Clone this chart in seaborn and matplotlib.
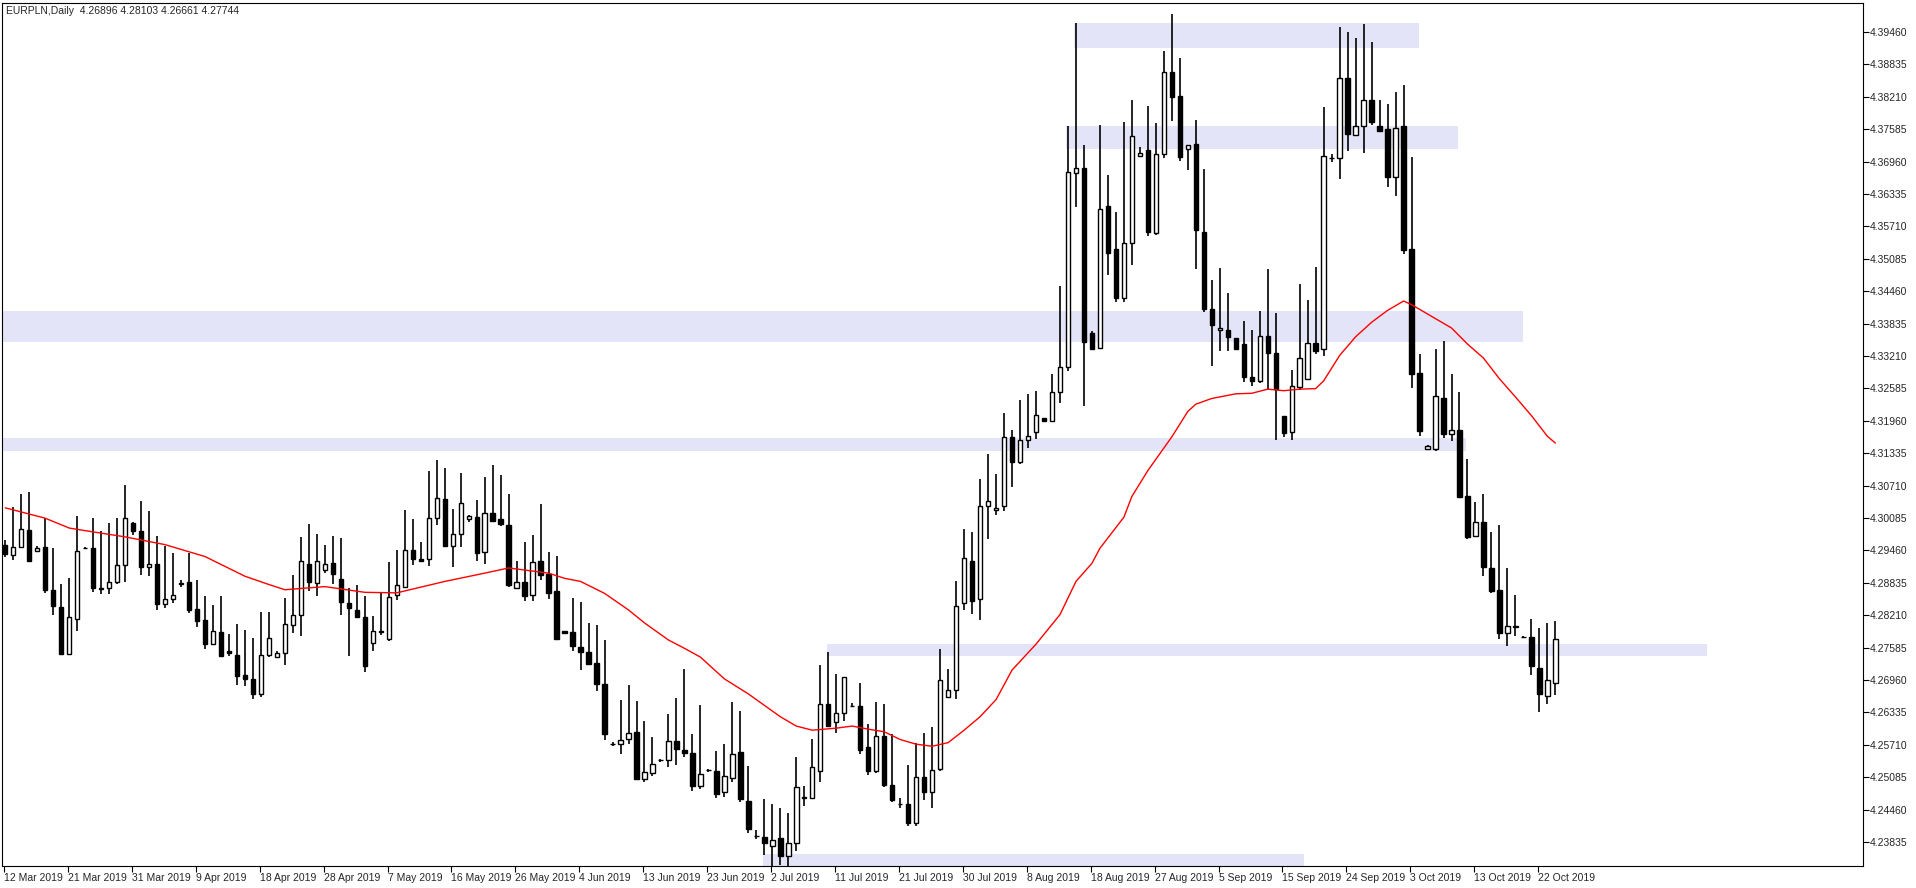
import matplotlib
matplotlib.use('Agg')
import matplotlib.pyplot as plt
import seaborn as sns
import pandas as pd
import numpy as np

# daily EURPLN candles, bar 0 = 12 Mar 2019
opens = [4.2957,4.2937,4.2952,4.2986,4.2945,4.2953,4.2870,4.2837,4.2746,4.2813,
         4.2951,4.2951,4.2874,4.2873,4.2884,4.2918,4.2999,4.2984,4.2914,4.2920,
         4.2842,4.2852,4.2882,4.2884,4.2833,4.2812,4.2765,4.2789,4.2752,4.2745,
         4.2706,4.2698,4.2668,4.2744,4.2741,4.2748,4.2802,4.2821,4.2920,4.2883,
         4.2908,4.2922,4.2891,4.2845,4.2830,4.2818,4.2767,4.2791,4.2775,4.2860,
         4.2876,4.2947,4.2930,4.2929,4.3008,4.3045,4.2955,4.2978,4.3007,4.3010,
         4.2942,4.3018,4.3006,4.2995,4.2873,4.2885,4.2859,4.2926,4.2900,4.2868,
         4.2790,4.2789,4.2760,4.2750,4.2729,4.2689,4.2572,4.2572,4.2582,4.2595,
         4.2505,4.2516,4.2541,4.2542,4.2578,4.2560,4.2555,4.2492,
         4.2522,4.2521,4.2480,4.2507,4.2556,4.2463,4.2394,4.2392,4.2376,4.2391,
         4.2357,4.2381,4.2469,4.2469,4.2520,4.2650,4.2614,4.2633,4.2646,4.2646,
         4.2566,4.2520,4.2588,4.2494,4.2457,4.2456,4.2420,4.2508,4.2479,4.2525,
         4.2664,4.2677,4.2844,4.2925,4.2852,4.3032,4.3024,
         4.3031,4.3164,4.3116,4.3159,4.3174,4.3201,4.3195,4.3251,4.3299,4.3674,
         4.3683,4.3365,4.3337,4.3611,4.3527,4.3433,4.3539,4.3707,4.3719,4.3559,
         4.3711,4.3868,4.3822,4.3721,4.3730,4.3560,4.3411,4.3371,4.3372,4.3355,
         4.3344,4.3280,4.3273,4.3359,4.3326,4.3205,4.3174,4.3262,
         4.3277,4.3346,4.3334,4.3703,4.3702,4.3857,4.3747,4.3765,4.3814,4.3764,
         4.3758,4.3666,4.3764,4.3527,4.3288,4.3141,4.3142,4.3240,4.3170,4.3178,
         4.3050,4.2974,4.3001,4.2912,4.2869,4.2787,4.2799,4.2778,4.2778,4.2719,
         4.2665,4.26896]
highs = [4.2966,4.3030,4.3055,4.3058,4.2955,4.3008,4.2951,4.2882,4.2893,4.3013,
         4.2952,4.3009,4.2983,4.2999,4.3009,4.3073,4.3001,4.3042,4.3021,4.2974,
         4.2955,4.2941,4.2889,4.2940,4.2889,4.2857,4.2841,4.2858,4.2785,4.2803,
         4.2793,4.2776,4.2828,4.2828,4.2751,4.2855,4.2899,4.2972,4.2997,4.2978,
         4.2957,4.2974,4.2970,4.2874,4.2880,4.2857,4.2820,4.2863,4.2924,4.2947,
         4.3024,4.3006,4.2963,4.3100,4.3120,4.3105,4.3025,4.3095,4.3015,4.3043,
         4.3088,4.3110,4.3092,4.3055,4.2926,4.2963,4.2976,4.3036,4.2942,4.2935,
         4.2790,4.2854,4.2847,4.2806,4.2802,4.2773,4.2576,4.2658,4.2687,4.2656,
         4.2616,4.2586,4.2543,4.2631,4.2661,4.2717,4.2592,4.2648,
         4.2525,4.2559,4.2572,4.2654,4.2637,4.2529,4.2407,4.2466,4.2457,4.2448,
         4.2440,4.2547,4.2491,4.2582,4.2724,4.2750,4.2707,4.2702,4.2651,4.2690,
         4.2610,4.2654,4.2649,4.2592,4.2469,4.2532,4.2574,4.2594,4.2606,4.2756,
         4.2718,4.2887,4.2987,4.2981,4.3083,4.3132,4.3093,
         4.3211,4.3179,4.3236,4.3248,4.3254,4.3202,4.3287,4.3456,4.3765,4.3963,
         4.3728,4.3369,4.3767,4.3670,4.3599,4.3773,4.3815,4.3724,4.3804,4.3771,
         4.3910,4.3981,4.3895,4.3728,4.3777,4.3681,4.3468,4.3490,4.3442,4.3356,
         4.3389,4.3371,4.3407,4.3488,4.3404,4.3206,4.3293,4.3460,
         4.3429,4.3493,4.3801,4.3710,4.3956,4.3946,4.3934,4.3962,4.3926,4.3814,
         4.3807,4.3830,4.3843,4.3705,4.3324,4.3149,4.3334,4.3349,4.3286,4.3252,
         4.3123,4.3039,4.3054,4.2982,4.2994,4.2912,4.2859,4.2780,4.2814,4.2796,
         4.2805,4.28103]
lows = [4.2934,4.2927,4.2950,4.2925,4.2945,4.2864,4.2822,4.2745,4.2745,4.2790,
        4.2950,4.2865,4.2861,4.2861,4.2882,4.2884,4.2976,4.2899,4.2897,4.2830,
        4.2834,4.2844,4.2875,4.2826,4.2799,4.2756,4.2763,4.2743,4.2743,4.2687,
        4.2684,4.2659,4.2664,4.2740,4.2741,4.2724,4.2786,4.2780,4.2867,4.2857,
        4.2902,4.2881,4.2822,4.2743,4.2815,4.2711,4.2751,4.2782,4.2772,4.2851,
        4.2876,4.2918,4.2923,4.2916,4.2995,4.2953,4.2913,4.2953,4.3000,4.2926,
        4.2919,4.3000,4.2993,4.2876,4.2873,4.2849,4.2849,4.2889,4.2852,4.2774,
        4.2785,4.2751,4.2716,4.2726,4.2674,4.2581,4.2568,4.2553,4.2572,4.2505,
        4.2499,4.2510,4.2538,4.2528,4.2531,4.2548,4.2481,4.2485,
        4.2519,4.2469,4.2470,4.2500,4.2461,4.2401,4.2389,4.2358,4.2335,4.2338,
        4.2336,4.2366,4.2452,4.2466,4.2500,4.2608,4.2594,4.2617,4.2643,4.2553,
        4.2513,4.2517,4.2489,4.2461,4.2448,4.2414,4.2414,4.2464,4.2448,4.2520,
        4.2664,4.2659,4.2831,4.2824,4.2811,4.2967,4.3014,
        4.3021,4.3069,4.3112,4.3143,4.3161,4.3196,4.3193,4.3230,4.3292,4.3608,
        4.3224,4.3332,4.3334,4.3478,4.3425,4.3426,4.3497,4.3707,4.3552,4.3555,
        4.3702,4.3775,4.3698,4.3679,4.3488,4.3405,4.3301,4.3330,4.3330,4.3332,
        4.3270,4.3264,4.3269,4.3256,4.3159,4.3164,4.3159,4.3255,
        4.3276,4.3324,4.3320,4.3695,4.3662,4.3717,4.3745,4.3712,4.3766,4.3754,
        4.3647,4.3630,4.3518,4.3260,4.3166,4.3141,4.3137,4.3162,4.3157,4.3048,
        4.2967,4.2974,4.2896,4.2863,4.2774,4.2762,4.2780,4.2776,4.2705,4.2634,
        4.2649,4.26661]
closes = [4.2938,4.2952,4.2988,4.2925,4.2951,4.2869,4.2838,4.2746,4.2817,4.2945,
          4.2951,4.2873,4.2871,4.2885,4.2918,4.3008,4.2983,4.2913,4.2920,4.2842,
          4.2852,4.2860,4.2882,4.2830,4.2810,4.2765,4.2791,4.2743,4.2748,4.2703,
          4.2697,4.2668,4.2745,4.2776,4.2748,4.2804,4.2821,4.2925,4.2884,4.2925,
          4.2920,4.2900,4.2846,4.2834,4.2817,4.2722,4.2790,4.2788,4.2856,4.2879,
          4.2947,4.2929,4.2926,4.3008,4.3047,4.2955,4.2978,4.3037,4.3013,4.2941,
          4.3018,4.3002,4.2996,4.2879,4.2885,4.2857,4.2923,4.2899,4.2863,4.2774,
          4.2787,4.2761,4.2750,4.2726,4.2688,4.2591,4.2572,4.2580,4.2593,4.2505,
          4.2518,4.2534,4.2541,4.2578,4.2562,4.2555,4.2492,4.2514,
          4.2522,4.2476,4.2510,4.2554,4.2466,4.2408,4.2394,4.2381,4.2387,4.2357,
          4.2381,4.2489,4.2469,4.2528,4.2650,4.2608,4.2633,4.2702,4.2646,4.2561,
          4.2520,4.2588,4.2493,4.2464,4.2457,4.2420,4.2508,4.2479,4.2523,4.2695,
          4.2677,4.2839,4.2931,4.2849,4.3032,4.3042,4.3027,
          4.3164,4.3116,4.3159,4.3166,4.3207,4.3196,4.3251,4.3299,4.3676,4.3683,
          4.3348,4.3334,4.3604,4.3519,4.3433,4.3539,4.3745,4.3712,4.3561,4.3711,
          4.3868,4.3821,4.3704,4.3728,4.3564,4.3411,4.3380,4.3375,4.3357,4.3334,
          4.3280,4.3272,4.3359,4.3326,4.3257,4.3173,4.3264,4.3317,
          4.3346,4.3331,4.3707,4.3703,4.3857,4.3750,4.3765,4.3814,4.3773,4.3756,
          4.3666,4.3761,4.3525,4.3286,4.3177,4.3147,4.3244,4.3170,4.3179,4.3049,
          4.2972,4.3000,4.2914,4.2867,4.2787,4.2801,4.2799,4.2778,4.2722,4.2669,
          4.2695,4.27744]

# moving average read at selected bars
ma_bar = [0, 5, 8, 10, 15, 20, 25, 30, 33, 35, 40, 45, 49, 55, 60, 63, 65, 68, 70, 72,
          75, 78, 80, 83, 85, 87, 90, 93, 95, 97, 99, 101, 104, 106, 108, 110, 112, 114,
          116, 118, 120, 122, 124, 126, 129, 132, 134, 136, 137, 140, 141, 143, 146, 148,
          149, 151, 154, 156, 158, 160, 162, 164, 165, 167, 169, 171, 173, 175, 176, 178,
          181, 183, 185, 187, 189, 191, 193, 194]
ma_val = [4.3028, 4.3008, 4.2989, 4.2984, 4.2972, 4.2957, 4.2934, 4.2896, 4.2880, 4.2870,
          4.2876, 4.2865, 4.2864, 4.2886, 4.2902, 4.2912, 4.2908, 4.2902, 4.2892, 4.2886,
          4.2863, 4.2831, 4.2806, 4.2773, 4.2757, 4.2740, 4.2698, 4.2669, 4.2647, 4.2625,
          4.2607, 4.2599, 4.2603, 4.2607, 4.2601, 4.2596, 4.2581, 4.2572, 4.2568, 4.2575,
          4.2599, 4.2625, 4.2658, 4.2715, 4.2765, 4.2822, 4.2886, 4.2921, 4.2950, 4.3010,
          4.3050, 4.3100, 4.3165, 4.3214, 4.3228, 4.3239, 4.3248, 4.3249, 4.3257, 4.3254,
          4.3257, 4.3258, 4.3273, 4.3322, 4.3358, 4.3386, 4.3409, 4.3427, 4.3420, 4.3402,
          4.3375, 4.3344, 4.3317, 4.3277, 4.3242, 4.3206, 4.3166, 4.3153]

# support / resistance zones: low, high, first bar, last bar
zone_lo = [4.3916, 4.3720, 4.3348, 4.3137, 4.2742, 4.2336]
zone_hi = [4.3963, 4.3765, 4.3408, 4.3162, 4.2766, 4.2360]
zone_x0 = [133.8, 132.8, -1, -1, 102.8, 94.8]
zone_x1 = [176.9, 181.8, 189.9, 182.8, 213.0, 162.6]

date_labels = ['12 Mar 2019', '21 Mar 2019', '31 Mar 2019', '9 Apr 2019', '18 Apr 2019',
               '28 Apr 2019', '7 May 2019', '16 May 2019', '26 May 2019', '4 Jun 2019',
               '13 Jun 2019', '23 Jun 2019', '2 Jul 2019', '11 Jul 2019', '21 Jul 2019',
               '30 Jul 2019', '8 Aug 2019', '18 Aug 2019', '27 Aug 2019', '5 Sep 2019',
               '15 Sep 2019', '24 Sep 2019', '3 Oct 2019', '13 Oct 2019', '22 Oct 2019']
price_ticks = [4.23835 + 0.00625 * i for i in range(26)]

sns.set_style('white')
plt.rcParams['font.family'] = ['Liberation Sans', 'DejaVu Sans']

fig = plt.figure(figsize=(19.16, 8.88), dpi=100)
ax = fig.add_axes([2 / 1916, 1 - 866 / 888, 1861 / 1916, 863 / 888])

df = pd.DataFrame({'bar': np.arange(len(opens)), 'o': opens, 'h': highs, 'l': lows, 'c': closes})

for lo, hi, x0, x1 in zip(zone_lo, zone_hi, zone_x0, zone_x1):
    ax.fill_between([x0, x1], lo, hi, color='#e4e4f8', lw=0, zorder=0)

ax.vlines(df['bar'], df['l'], df['h'], color='black', lw=1.2, zorder=2)
up = df[df.c >= df.o]
dn = df[df.c < df.o]
ax.bar(up['bar'], (up.c - up.o).clip(lower=0.00003), bottom=up.o, width=0.55,
       color='white', edgecolor='black', lw=1.0, zorder=3)
ax.bar(dn['bar'], (dn.o - dn.c), bottom=dn.c, width=0.55,
       color='black', edgecolor='black', lw=1.0, zorder=3)

ma = pd.DataFrame({'bar': ma_bar, 'ma': ma_val})
sns.lineplot(data=ma, x='bar', y='ma', color='red', lw=1, ax=ax, zorder=4)

ax.set_xlim(-0.41, 232.5)
ax.set_ylim(4.2337, 4.4002)
ax.yaxis.tick_right()
ax.set_yticks(price_ticks)
ax.set_yticklabels(['%.5f' % p for p in price_ticks], fontsize=7.5)
ax.set_xticks(np.arange(0, 8 * len(date_labels), 8) - 0.16)
ax.set_xticklabels(date_labels, fontsize=7.5, ha='left')
ax.tick_params(axis='both', direction='out', length=4, width=0.8, color='black', pad=1)
ax.tick_params(axis='y', right=True, left=False)
ax.tick_params(axis='x', bottom=True)
ax.set_xlabel('')
ax.set_ylabel('')
for s in ax.spines.values():
    s.set_color('black')
    s.set_linewidth(0.8)

ax.text(0.002, 0.997, 'EURPLN,Daily  4.26896 4.28103 4.26661 4.27744', transform=ax.transAxes,
        fontsize=7.5, va='top', ha='left')

fig.savefig('out.png', dpi=100)
